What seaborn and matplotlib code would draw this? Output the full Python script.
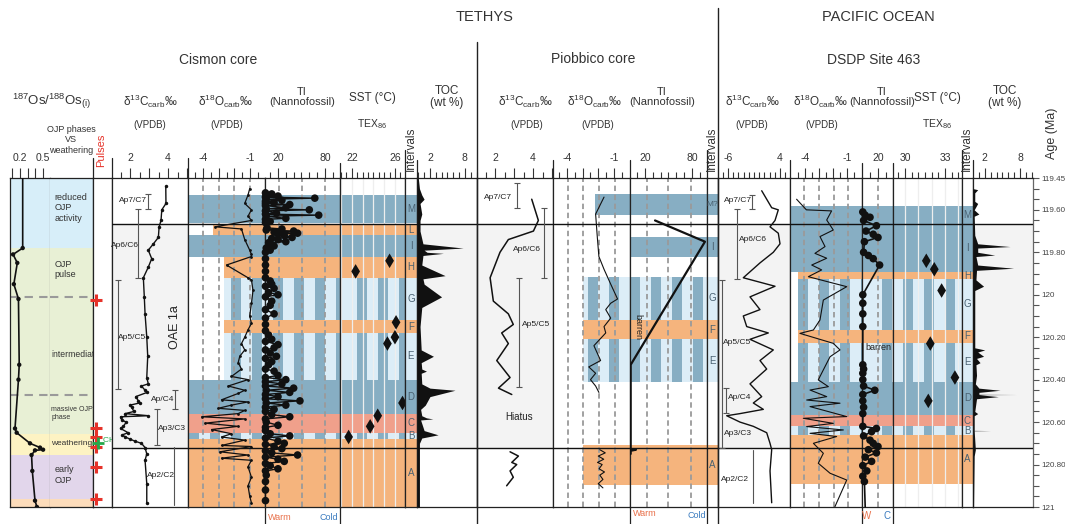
import numpy as np
import matplotlib
matplotlib.use('Agg')
import matplotlib.pyplot as plt
import matplotlib.transforms as mtransforms
from matplotlib.lines import Line2D
from matplotlib.patches import Rectangle
import seaborn as sns

sns.set_theme(style='white')
plt.rcParams['font.family'] = ['Liberation Sans', 'DejaVu Sans']
plt.rcParams['mathtext.fontset'] = 'custom'
plt.rcParams['mathtext.rm'] = 'Liberation Sans'
plt.rcParams['mathtext.it'] = 'Liberation Sans:italic'
plt.rcParams['mathtext.bf'] = 'Liberation Sans:bold'

# ---------------- data (age in Ma, value) ----------------
# OJP phases / Os isotopes
phase_top = [119.45, 119.78, 120.655, 120.755, 120.96]
phase_base = [119.78, 120.655, 120.755, 120.96, 121.0]
phase_col = ['#d7eef9', '#e8f0d5', '#fdf3c3', '#e2d6eb', '#fcdcbb']
phase_labels = ['reduced\nOJP\nactivity', 'OJP\npulse', 'intermediate', 'massive OJP\nphase', 'weathering', 'early\nOJP']
phase_label_age = [119.59, 119.88, 120.28, 120.56, 120.70, 120.85]
phase_dash = [120.01, 120.47]
os_ratio = [(119.45, 0.235), (119.78, 0.235), (119.81, 0.11), (119.85, 0.165), (119.95, 0.12), (120.02, 0.18),
            (120.33, 0.19), (120.40, 0.18), (120.63, 0.135), (120.65, 0.157), (120.70, 0.33), (120.72, 0.46),
            (120.73, 0.50), (120.733, 0.395), (120.755, 0.35), (120.83, 0.36), (120.97, 0.395), (121.0, 0.42)]
pulse_ages = [120.025, 120.63, 120.67, 120.715, 120.81, 120.96]
ch4_age = 120.70

# shared grey box (OAE interval)
box_top, box_base = 119.667, 120.722

# Cismon core
c_int = ['M', 'L', 'I', 'H', 'G', 'F', 'E', 'D', 'C', 'B', 'A']
c_int_top = [119.53, 119.67, 119.72, 119.82, 119.92, 120.12, 120.18, 120.40, 120.56, 120.65, 120.68]
c_int_base = [119.663, 119.72, 119.82, 119.92, 120.12, 120.18, 120.40, 120.56, 120.65, 120.68, 121.0]
c_int_kind = ['blue', 'orange', 'blue', 'orange', 'stripe', 'orange', 'stripe', 'blue', 'salmon', 'stripe', 'orange']
c_int_from = [-5.0, -3.38, -5.0, -2.68, -2.68, -2.68, -2.68, -5.0, -5.0, -5.0, -5.0]
c_zones = [('Ap7/C7', 119.525, 119.596), ('Ap6/C6', 119.597, 119.922), ('Ap5/C5', 119.93, 120.445),
           ('Ap/C4', 120.45, 120.54), ('Ap3/C3', 120.54, 120.71), ('Ap2/C2', 120.716, 120.99)]
c_d13c = [(119.49, 3.88), (119.57, 3.89), (119.60, 3.67), (119.65, 3.63), (119.68, 3.53), (119.73, 3.49),
          (119.76, 3.23), (119.79, 2.96), (119.83, 3.14), (119.87, 2.96), (119.92, 2.70), (120.01, 2.75),
          (120.09, 2.79), (120.20, 2.88), (120.29, 2.93), (120.39, 2.88), (120.42, 2.96), (120.43, 2.6),
          (120.45, 2.79), (120.46, 2.9), (120.48, 2.3), (120.50, 2.44), (120.51, 2.5), (120.52, 2.0),
          (120.53, 2.09), (120.55, 2.2), (120.56, 1.74), (120.57, 2.97), (120.575, 1.5), (120.59, 1.56),
          (120.60, 1.8), (120.62, 1.65), (120.63, 1.5), (120.65, 1.9), (120.66, 1.6), (120.67, 1.74),
          (120.68, 2.0), (120.69, 2.26), (120.70, 2.6), (120.72, 2.79), (120.75, 2.88), (120.78, 2.79),
          (120.89, 2.88), (120.98, 2.88)]
c_d18o = [(119.50, -1.02), (119.53, -1.13), (119.57, -1.34), (119.60, -0.91), (119.63, -1.13), (119.65, -0.91),
          (119.68, -3.25), (119.69, -1.55), (119.74, -1.34), (119.79, -1.02), (119.81, -0.91), (119.82, -0.91),
          (119.86, -2.51), (119.92, -1.13), (119.93, -0.91), (119.98, -0.81), (120.04, -0.91), (120.10, -1.02),
          (120.135, -0.91), (120.165, -1.13), (120.20, -1.34), (120.23, -1.55), (120.26, -1.34), (120.29, -1.66),
          (120.32, -1.76), (120.35, -1.55), (120.385, -2.19), (120.40, -1.13), (120.43, -2.40), (120.45, -1.34),
          (120.465, -1.76), (120.495, -2.83), (120.505, -1.13), (120.52, -2.19), (120.535, -3.04), (120.545, -1.34),
          (120.56, -1.76), (120.575, -4.10), (120.585, -1.34), (120.605, -3.89), (120.62, -1.76), (120.635, -3.47),
          (120.655, -2.19), (120.67, -2.83), (120.685, -1.34), (120.71, -2.83), (120.715, -0.91), (120.74, -2.93),
          (120.755, -1.13), (120.77, -2.83), (120.78, -0.91), (120.81, -1.13), (120.86, -0.91), (120.90, -1.13),
          (120.95, -1.02), (120.98, -0.91)]
c_ti = [(119.52, 4), (119.525, 12), (119.53, 5), (119.535, 20), (119.54, 4), (119.545, 67), (119.55, 5),
        (119.555, 25), (119.56, 4), (119.565, 15), (119.57, 4), (119.575, 35), (119.58, 4), (119.59, 30),
        (119.595, 5), (119.60, 60), (119.605, 4), (119.615, 18), (119.62, 4), (119.625, 72), (119.63, 5),
        (119.64, 30), (119.645, 4), (119.655, 10), (119.66, 4), (119.685, 6), (119.69, 25), (119.695, 5),
        (119.70, 40), (119.705, 15), (119.71, 45), (119.715, 20), (119.72, 28), (119.73, 38), (119.735, 12),
        (119.74, 20), (119.75, 30), (119.755, 8), (119.76, 10), (119.77, 15), (119.78, 5), (119.79, 10),
        (119.80, 4), (119.83, 4), (119.86, 4), (119.89, 4), (119.92, 4), (119.935, 10), (119.95, 12),
        (119.96, 4), (119.97, 15), (119.99, 8), (120.00, 20), (120.01, 4), (120.03, 12), (120.05, 10),
        (120.07, 4), (120.09, 15), (120.11, 4), (120.14, 4), (120.17, 4), (120.19, 8), (120.21, 12),
        (120.22, 4), (120.235, 20), (120.25, 15), (120.26, 4), (120.275, 10), (120.29, 18), (120.30, 4),
        (120.315, 12), (120.33, 8), (120.35, 4), (120.36, 15), (120.38, 20), (120.39, 4), (120.40, 30),
        (120.41, 4), (120.42, 25), (120.43, 4), (120.44, 40), (120.45, 5), (120.46, 35), (120.47, 4),
        (120.48, 20), (120.49, 4), (120.50, 48), (120.51, 5), (120.52, 30), (120.53, 4), (120.54, 15),
        (120.55, 4), (120.565, 12), (120.575, 35), (120.585, 4), (120.60, 5), (120.615, 20), (120.625, 4),
        (120.64, 4), (120.655, 10), (120.665, 35), (120.675, 4), (120.69, 20), (120.70, 28), (120.705, 4),
        (120.715, 15), (120.725, 25), (120.735, 4), (120.745, 12), (120.755, 45), (120.765, 4), (120.775, 20),
        (120.785, 28), (120.795, 4), (120.805, 10), (120.82, 20), (120.83, 4), (120.85, 5), (120.88, 4),
        (120.92, 4), (120.97, 4)]
c_sst = [(119.84, 25.5), (119.89, 22.35), (120.13, 26.1), (120.20, 26.0), (120.23, 25.3), (120.51, 26.7),
         (120.57, 24.4), (120.62, 23.7), (120.67, 21.7)]
c_toc = [(119.45, 0.0), (119.50, 0.2), (119.53, 0.6), (119.55, 1.0), (119.57, 0.3), (119.62, 0.6), (119.65, 0.3),
         (119.70, 0.3), (119.76, 0.8), (119.78, 7.7), (119.79, 1.0), (119.80, 1.5), (119.805, 4.3), (119.815, 0.8),
         (119.86, 0.6), (119.91, 4.6), (119.925, 0.8), (119.95, 1.0), (120.01, 4.0), (120.06, 0.6), (120.15, 0.3),
         (120.26, 0.5), (120.29, 2.6), (120.32, 0.5), (120.35, 0.6), (120.36, 1.4), (120.37, 0.5), (120.42, 0.6),
         (120.44, 2.0), (120.45, 6.3), (120.48, 2.0), (120.52, 1.2), (120.54, 0.4), (120.57, 0.6), (120.58, 1.4),
         (120.585, 2.5), (120.59, 0.4), (120.64, 1.0), (120.66, 3.4), (120.675, 0.6), (120.70, 0.2), (121.0, 0.2)]

# Piobbico core
p_int = ['M?', 'I', 'G', 'F', 'E', 'A']
p_int_top = [119.525, 119.726, 119.915, 120.119, 120.21, 120.708]
p_int_base = [119.624, 119.824, 120.119, 120.21, 120.41, 120.896]
p_int_kind = ['blue', 'blue', 'stripe', 'orange', 'stripe', 'orange']
p_int_from = [-2.24, np.nan, -2.96, -2.96, -2.96, -2.96]
p_zones = [('Ap7/C7', 119.475, 119.59), ('Ap6/C6', 119.59, 119.92), ('Ap5/C5', 119.92, 120.435)]
p_d13c = [(119.55, 3.93), (119.65, 4.28), (119.70, 4.02), (119.74, 2.70), (119.80, 2.26), (119.92, 1.74),
          (120.03, 1.91), (120.09, 2.70), (120.14, 2.96), (120.18, 2.35), (120.23, 2.70), (120.31, 2.09),
          (120.39, 2.79), (120.44, 2.18), (120.47, 2.88)]
p_d13c_a = [(120.74, 2.79), (120.76, 3.23), (120.79, 2.88), (120.80, 3.14), (120.83, 2.79), (120.86, 2.96),
            (120.90, 2.61)]
p_d18o = [(119.54, -1.63), (119.62, -2.17), (119.73, -2.06), (119.82, -1.96), (119.88, -1.63), (119.95, -1.20),
          (120.02, -0.76), (120.04, -1.20), (120.07, -1.52), (120.11, -1.20), (120.15, -1.63), (120.18, -1.52),
          (120.24, -2.28), (120.31, -1.85), (120.34, -2.61), (120.37, -2.17), (120.40, -2.50), (120.43, -2.17),
          (120.46, -1.96)]
p_d18o_a = [(120.73, -1.9), (120.745, -1.55), (120.76, -2.0), (120.775, -1.65), (120.79, -2.05), (120.80, -1.75),
            (120.82, -1.95), (120.835, -1.6), (120.85, -1.9), (120.87, -1.7), (120.89, -2.0), (120.91, -1.7)]
p_ti = [(119.65, 32.8), (119.75, 96.6), (120.33, 1.7), (120.73, 1.7), (120.73, 8.5), (120.735, 1.7), (120.75, 1.7)]

# DSDP Site 463
a_int = ['M', 'I', 'H', 'G', 'F', 'E', 'D', 'C', 'B', 'A']
a_int_top = [119.58, 119.667, 119.895, 119.925, 120.165, 120.225, 120.41, 120.565, 120.62, 120.66]
a_int_base = [119.667, 119.895, 119.925, 120.165, 120.225, 120.41, 120.565, 120.62, 120.66, 120.89]
a_int_kind = ['blue', 'blue', 'orange', 'stripe', 'orange', 'stripe', 'blue', 'salmon', 'stripe', 'orange']
a_int_from = [-5.07, -5.07, -4.5, -4.5, -4.5, -4.5, -5.07, -5.07, -5.07, -5.07]
a_zones = [('Ap7/C7', 119.53, 119.597), ('Ap6/C6', 119.597, 119.927), ('Ap5/C5', 119.93, 120.723),
           ('Ap/C4', 120.44, 120.555), ('Ap3/C3', None, None), ('Ap2/C2', 120.73, 120.98)]
a_d13c = [(119.51, 0.48), (119.59, 2.40), (119.60, 3.67), (119.65, 3.04), (119.68, 2.08), (119.71, 3.67),
          (119.76, 4.0), (119.80, 2.71), (119.85, 0.15), (119.92, -3.06), (119.96, 3.04), (120.01, -1.77),
          (120.07, 0.15), (120.10, -3.06), (120.15, -2.40), (120.18, 1.75), (120.21, -1.77), (120.26, 2.71),
          (120.31, 0.15), (120.35, 1.44), (120.42, -1.77), (120.48, 0.48), (120.51, -1.13), (120.54, 0.79),
          (120.56, -3.69), (120.57, -6.25), (120.60, -3.69), (120.62, -1.13), (120.65, 1.44), (120.70, 2.08),
          (120.73, 2.40), (120.83, 2.08), (120.98, 2.40)]
a_d18o = [(119.55, -4.6), (119.60, -3.9), (119.605, -2.1), (119.648, -2.45), (119.695, -1.98), (119.726, -2.93),
          (119.773, -2.57), (119.805, -3.29), (119.828, -2.45), (119.86, -3.52), (119.883, -2.81), (119.915, -3.76),
          (119.962, -1.02), (120.025, -2.69), (120.119, -2.93), (120.166, -3.40), (120.182, -4.36), (120.229, -1.98),
          (120.26, -1.50), (120.292, -2.21), (120.354, -2.69), (120.401, -3.05), (120.433, -2.33), (120.449, -3.64),
          (120.48, -2.45), (120.496, -3.88), (120.511, -1.50), (120.527, -3.64), (120.574, -1.02), (120.582, -4.12),
          (120.606, -1.98), (120.621, -3.88), (120.637, -1.26), (120.653, -3.64), (120.668, -1.74), (120.70, -3.40),
          (120.747, -2.69), (120.794, -3.05), (120.841, -2.21), (120.873, -1.02), (120.998, -1.86)]
a_ti = [(119.61, 1), (119.625, 4), (119.635, 10), (119.65, 2), (119.675, 18), (119.70, 5), (119.715, 14),
        (119.73, 20), (119.75, 3), (119.80, 2), (119.815, 8), (119.83, 14), (119.86, 22), (120.00, 1),
        (120.04, 1), (120.09, 1), (120.15, 1), (120.33, 1), (120.35, 2), (120.37, 1), (120.40, 1), (120.43, 2),
        (120.45, 16), (120.47, 1), (120.50, 1), (120.53, 2), (120.56, 1), (120.62, 1), (120.63, 18),
        (120.645, 12), (120.665, 2), (120.685, 10), (120.70, 14), (120.715, 20), (120.73, 8), (120.745, 18),
        (120.765, 4), (120.785, 12), (120.805, 1), (120.83, 6), (120.855, 1), (120.88, 3), (121.0, 4)]
a_sst = [(119.84, 31.6), (119.88, 32.2), (119.98, 32.75), (120.23, 31.9), (120.39, 33.75), (120.50, 31.75)]
a_toc = [(119.50, 0.0), (119.505, 0.8), (119.52, 0.3), (119.56, 0.3), (119.57, 0.8), (119.60, 0.2), (119.62, 1.0),
         (119.63, 0.2), (119.72, 0.3), (119.76, 0.8), (119.773, 6.3), (119.78, 0.8), (119.80, 0.8), (119.813, 3.7),
         (119.82, 0.5), (119.86, 0.8), (119.875, 6.9), (119.885, 0.6), (119.93, 0.5), (119.96, 1.8), (119.98, 0.3),
         (120.25, 0.3), (120.26, 2.0), (120.27, 0.8), (120.29, 1.8), (120.30, 0.6), (120.32, 1.2), (120.33, 0.5),
         (120.38, 0.6), (120.42, 0.4), (120.44, 1.0), (120.45, 4.6), (120.46, 1.0), (120.469, 1.0), (120.47, 7.5),
         (120.471, 1.0), (120.48, 4.3), (120.49, 0.6), (120.55, 0.3), (120.56, 0.8), (120.57, 0.2), (120.639, 0.2),
         (120.64, 3.0), (120.641, 0.2), (120.73, 0.4), (120.76, 0.2), (121.0, 0.1)]

age_ticks = [119.45, 119.60, 119.80, 120.0, 120.20, 120.40, 120.60, 120.80, 121.0]
age_labels = ['119.45', '119.60', '119.80', '120', '120.20', '120.40', '120.60', '120.80', '121']

# ---------------- figure helpers ----------------
W, H = 1065, 524
TOP, BOT = 178, 507
STRIPE_PERIOD, STRIPE_W = 21, 10   # pixels, pattern of the striped intervals
COL = {'blue': '#87aec3', 'orange': '#f5b47d', 'salmon': '#f0a08b', 'stripe': '#dcedf7', 'grey': '#f3f3f3'}
TXT = '#333333'

fig = plt.figure(figsize=(W / 100, H / 100), dpi=100)
PX = {}


def arr(pairs):
    a = np.array(pairs, dtype=float)
    return a[:, 0], a[:, 1]


def panel(x0, x1, xlim, major=(), labels=(), minor=()):
    ax = fig.add_axes([x0 / W, 1 - BOT / H, (x1 - x0) / W, (BOT - TOP) / H])
    PX[ax] = (x0, x1)
    ax.set_facecolor('white')
    ax.set_xlim(*xlim)
    ax.set_ylim(121.0, 119.45)
    ax.set_yticks([])
    ax.set_xticks(list(major))
    ax.set_xticklabels(list(labels))
    ax.set_xticks(list(minor), minor=True)
    ax.tick_params(axis='x', which='both', top=True, bottom=False, labeltop=True, labelbottom=False,
                   direction='out', color='#333333', width=0.8)
    ax.tick_params(axis='x', which='major', length=7, labelsize=7.5, pad=4, labelcolor=TXT)
    ax.tick_params(axis='x', which='minor', length=4)
    ax.tick_params(axis='y', which='both', left=False, right=False)
    for s in ax.spines.values():
        s.set_color('#222222')
        s.set_linewidth(0.9)
    return ax


def ftext(x, y, s, **kw):
    kw.setdefault('ha', 'center')
    kw.setdefault('va', 'center')
    kw.setdefault('color', TXT)
    fig.text(x / W, 1 - y / H, s, **kw)


def fline(x, y0, y1, lw=1.0, color='#222222'):
    fig.add_artist(Line2D([x / W, x / W], [1 - y0 / H, 1 - y1 / H], color=color, lw=lw))


def stripes(ax, t, b, xmin):
    # vertical dark stripes on a light band, laid out in figure pixels
    x0, x1 = PX[ax]
    tr = mtransforms.blended_transform_factory(ax.transAxes, ax.transData)
    start = x0 + xmin * (x1 - x0)
    k = int(np.ceil(start / STRIPE_PERIOD))
    while k * STRIPE_PERIOD < x1:
        px0 = max(k * STRIPE_PERIOD, start)
        px1 = min(k * STRIPE_PERIOD + STRIPE_W, x1)
        if px1 > px0:
            ax.add_patch(Rectangle(((px0 - x0) / (x1 - x0), t), (px1 - px0) / (x1 - x0), b - t,
                                   transform=tr, facecolor=COL['blue'], lw=0, zorder=1.2))
        k += 1


def draw_bands(ax, tops, bases, kinds, starts=None, striped=True):
    x0, x1 = ax.get_xlim()
    for i, (t, b, k) in enumerate(zip(tops, bases, kinds)):
        xmin = 0.0
        if starts is not None:
            if np.isnan(starts[i]):
                continue
            xmin = max(0.0, (starts[i] - x0) / (x1 - x0))
        ax.axhspan(t, b, xmin=xmin, xmax=1, facecolor=COL[k], lw=0, zorder=1)
        if k == 'stripe' and striped:
            stripes(ax, t, b, xmin)


def interval_column(ax, names, tops, bases, kinds):
    draw_bands(ax, tops, bases, kinds, striped=False)
    tr = mtransforms.blended_transform_factory(ax.transAxes, ax.transData)
    for n, t, b in zip(names, tops, bases):
        ax.text(0.5, (t + b) / 2, n, transform=tr, ha='center', va='center', fontsize=7 if len(n) == 1 else 6,
                color='#4a6272', zorder=6)


def grey_box(ax):
    ax.axhspan(box_top, box_base, facecolor=COL['grey'], lw=0, zorder=0.5)


def box_lines(ax):
    for a in (box_top, box_base):
        ax.axhline(a, color='#111111', lw=1.0, zorder=3)


def dashed(ax, xs):
    for x in xs:
        ax.axvline(x, color='#9a9a9a', lw=1.3, ls=(0, (3, 2)), zorder=2)


def curve(ax, pairs, lw=1.0, marker=None, ms=2.0):
    ages, vals = arr(pairs)
    sns.lineplot(x=vals, y=ages, ax=ax, sort=False, estimator=None, color='#111111', lw=lw,
                 marker=marker, markersize=ms, markeredgewidth=0, zorder=4)


def zone(ax, x, a0, a1, caps=True):
    ax.plot([x, x], [a0, a1], color='#555555', lw=0.8, marker='_' if caps else None, ms=5, mew=0.8, zorder=3)


def small(ax, x, a, s, size=6, **kw):
    ax.text(x, a, s, fontsize=size, ha='center', va='center', color='#222222', zorder=6, **kw)


# ---------------- OJP / Os columns ----------------
ax_os = panel(10, 50, (0.07, 0.59), [0.1, 0.2, 0.3, 0.4, 0.5], ['', '0.2', '', '', '0.5'])
ax_ph = panel(50, 93, (0, 1))
ax_ph.set_xticks([])
for ax in (ax_os, ax_ph):
    for t, b, c in zip(phase_top, phase_base, phase_col):
        ax.axhspan(t, b, facecolor=c, lw=0, zorder=0)
    for d in phase_dash:
        ax.axhline(d, color='#9a9a9a', lw=1.5, ls=(0, (4, 3)), zorder=2)
ax_os.spines['right'].set_color('#8a8a8a')
ax_ph.spines['left'].set_visible(False)
os_age, os_val = arr(os_ratio)
ax_os.plot(os_val, os_age, color='#111111', lw=1.2, zorder=4)
sns.scatterplot(x=os_val[1:], y=os_age[1:], ax=ax_os, color='#111111', s=10, edgecolor='none', zorder=5)
for lab, a in zip(phase_labels, phase_label_age):
    fs = {'massive OJP\nphase': 5.0, 'weathering': 6.0, 'intermediate': 6.2}.get(lab, 6.5)
    xx = 0.03 if lab in ('intermediate', 'weathering', 'massive OJP\nphase') else 0.1
    ax_ph.text(xx, a, lab, fontsize=fs, ha='left', va='center', color='#333333', linespacing=1.2)

ax_pu = panel(93, 112, (0, 1))
ax_pu.set_xticks([])
ax_pu.plot(np.zeros(len(pulse_ages)) + 0.16, pulse_ages, ls='none', marker='+', ms=9, mew=2.2,
           color='#e6332a', clip_on=False, zorder=5)
ax_pu.plot([0.28], [ch4_age], ls='none', marker='+', ms=8, mew=2, color='#25a84b', clip_on=False, zorder=5)
ax_pu.text(0.45, ch4_age - 0.01, 'CH$_4$', fontsize=6, color='#25a84b', ha='left', va='center', clip_on=True)

# ---------------- Cismon core ----------------
ax = panel(112, 188, (1.05, 5.05), [2, 3, 4, 5], ['2', '', '4', ''], np.arange(1.5, 5.01, 0.5))
grey_box(ax)
box_lines(ax)
cz_x = [2.96, 2.44, 1.35, 4.37, 3.44, 4.33]
cz_lab = [(2.16, 119.555), (1.74, 119.766), (2.1, 120.20), (3.74, 120.495), (4.2, 120.63), (3.63, 120.85)]
for (name, a0, a1), x, (lx, la) in zip(c_zones, cz_x, cz_lab):
    zone(ax, x, a0, a1, caps=(name != 'Ap2/C2'))
    small(ax, lx, la, name)
small(ax, 4.37, 120.15, 'OAE 1a', size=9, rotation=90)
curve(ax, c_d13c, lw=1.0, marker='o', ms=2.5)

ax = panel(188, 265, (-4.98, -0.04), [-4, -3, -2, -1], ['-4', '', '', '-1'], np.arange(-4.5, -0.4, 0.5))
draw_bands(ax, c_int_top, c_int_base, c_int_kind, c_int_from)
dashed(ax, [-4, -3, -2, -1])
box_lines(ax)
curve(ax, c_d18o, lw=0.9, marker='o', ms=2)

ax = panel(265, 340, (3.4, 99.2), [20, 80], ['20', '80'], np.arange(10, 95, 10))
draw_bands(ax, c_int_top, c_int_base, c_int_kind)
dashed(ax, [21, 50.6, 80])
box_lines(ax)
ti_age, ti_val = arr(c_ti)
ax.plot(ti_val, ti_age, color='#111111', lw=1.0, zorder=4, clip_on=False)
sns.scatterplot(x=ti_val, y=ti_age, ax=ax, color='#111111', s=30, edgecolor='none', zorder=5, clip_on=False)

ax = panel(340, 405, (20.9, 26.93), [22, 26], ['22', '26'], np.arange(21, 26.9, 0.5))
draw_bands(ax, c_int_top, c_int_base, c_int_kind)
for v in range(21, 27):
    ax.axvline(v, color='#eeeeee', lw=0.9, zorder=2)
box_lines(ax)
s_age, s_val = arr(c_sst)
sns.scatterplot(x=s_val, y=s_age, ax=ax, color='#111111', marker='d', s=55, edgecolor='none', zorder=5,
                clip_on=False)

ax = panel(405, 417, (0, 1))
ax.set_xticks([])
interval_column(ax, c_int, c_int_top, c_int_base, c_int_kind)
box_lines(ax)

ax = panel(417, 477, (-0.22, 10.07), [2, 8], ['2', '8'], np.arange(0, 10.1, 1))
grey_box(ax)
box_lines(ax)
t_age, t_val = arr(c_toc)
ax.fill_betweenx(t_age, -0.22, t_val, color='#111111', lw=0, zorder=4)

# ---------------- Piobbico core ----------------
ax = panel(477, 553, (1.05, 5.05), [2, 3, 4, 5], ['2', '', '4', ''], np.arange(1.5, 5.01, 0.5))
grey_box(ax)
box_lines(ax)
pz_x = [3.14, 4.58, 3.28]
pz_lab = [(2.16, 119.54), (3.68, 119.785), (4.16, 120.14)]
for (name, a0, a1), x, (lx, la) in zip(p_zones, pz_x, pz_lab):
    zone(ax, x, a0, a1)
    small(ax, lx, la, name)
small(ax, 3.28, 120.577, 'Hiatus', size=7)
curve(ax, p_d13c, lw=1.1)
curve(ax, p_d13c_a, lw=1.1)

ax = panel(553, 630, (-4.91, 0.04), [-4, -3, -2, -1], ['-4', '', '', '-1'], np.arange(-4.5, -0.4, 0.5))
draw_bands(ax, p_int_top, p_int_base, p_int_kind, p_int_from)
dashed(ax, [-3.93, -2.96, -1.93, -0.94])
box_lines(ax)
curve(ax, p_d18o, lw=0.8)
curve(ax, p_d18o_a, lw=0.8)

ax = panel(630, 707, (0.85, 99.2), [20, 80], ['20', '80'], np.arange(10, 95, 10))
draw_bands(ax, p_int_top, p_int_base, p_int_kind)
dashed(ax, [22, 50, 79])
box_lines(ax)
curve(ax, p_ti, lw=1.6)
small(ax, 11, 120.15, 'barren', size=6.5, rotation=-90)

ax = panel(707, 718, (0, 1))
ax.set_xticks([])
interval_column(ax, p_int, p_int_top, p_int_base, p_int_kind)
box_lines(ax)

# ---------------- DSDP Site 463 ----------------
ax = panel(718, 790, (-7.92, 5.92), [-6, 4], ['-6', '4'], np.arange(-7, 5.1, 1))
grey_box(ax)
box_lines(ax)
az_x = [-1.44, -4.33, -7.21, -6.38, None, -1.13]
az_lab = [(-4.17, 119.557), (-1.29, 119.74), (-4.17, 120.226), (-3.69, 120.486), (-4.08, 120.656), (-4.56, 120.87)]
for (name, a0, a1), x, (lx, la) in zip(a_zones, az_x, az_lab):
    if x is not None:
        zone(ax, x, a0, a1, caps=(name != 'Ap2/C2'))
    small(ax, lx, la, name)
curve(ax, a_d13c, lw=1.0)

ax = panel(790, 862, (-5.07, 0.07), [-4, -3, -2, -1], ['-4', '', '', '-1'], np.arange(-4.5, -0.4, 0.5))
draw_bands(ax, a_int_top, a_int_base, a_int_kind, a_int_from)
dashed(ax, [-4.07, -2.98, -1.93, -0.91])
box_lines(ax)
curve(ax, a_d18o, lw=0.8)

ax = panel(862, 893, (0, 38.75), [20], ['20'], [10, 30])
draw_bands(ax, a_int_top, a_int_base, a_int_kind)
dashed(ax, [20])
box_lines(ax)
ta_age, ta_val = arr(a_ti)
ax.plot(ta_val, ta_age, color='#111111', lw=1.2, zorder=4, clip_on=False)
sns.scatterplot(x=ta_val[:-1], y=ta_age[:-1], ax=ax, color='#111111', s=30, edgecolor='none', zorder=5,
                clip_on=False)
small(ax, 20, 120.25, 'barren', size=6.5)

ax = panel(893, 962, (29.1, 34.28), [30, 33], ['30', '33'], np.arange(29.5, 34.1, 0.5))
draw_bands(ax, a_int_top, a_int_base, a_int_kind)
for v in range(30, 35):
    ax.axvline(v, color='#eeeeee', lw=0.9, zorder=2)
box_lines(ax)
s_age, s_val = arr(a_sst)
sns.scatterplot(x=s_val, y=s_age, ax=ax, color='#111111', marker='d', s=55, edgecolor='none', zorder=5)

ax = panel(962, 973, (0, 1))
ax.set_xticks([])
interval_column(ax, a_int, a_int_top, a_int_base, a_int_kind)
box_lines(ax)

ax = panel(973, 1033, (0, 10.2), [2, 8], ['2', '8'], np.arange(1, 10.1, 1))
grey_box(ax)
box_lines(ax)
t_age, t_val = arr(a_toc)
ax.fill_betweenx(t_age, 0, t_val, color='#111111', lw=0, zorder=4)
ax.spines['right'].set_color('#666666')
ax.yaxis.tick_right()
ax.set_yticks(age_ticks)
ax.set_yticklabels(age_labels)
ax.set_yticks(np.arange(119.45, 121.01, 0.05), minor=True)
ax.tick_params(axis='y', which='both', right=True, left=False, direction='out', length=4.5, width=0.8,
               color='#555555', labelsize=5.8, labelcolor='#444444', pad=1.5)

# ---------------- headers and frame lines ----------------
ftext(485, 17, 'TETHYS', fontsize=10.5)
ftext(878, 17, 'PACIFIC OCEAN', fontsize=10.5)
ftext(218, 60, 'Cismon core', fontsize=10)
ftext(593, 59, 'Piobbico core', fontsize=10)
ftext(874, 60, 'DSDP Site 463', fontsize=10)
ftext(52, 101, r'$^{187}$Os/$^{188}$Os$_{\rm (i)}$', fontsize=9.5)
ftext(71, 140, 'OJP phases\nVS\nweathering', fontsize=6.5, linespacing=1.15)
ftext(101, 150, 'Pulses', fontsize=8, rotation=90, color='#e6332a')
for x in (150, 525, 752):
    ftext(x, 101, 'δ$^{13}$C$_{\\rm carb}$‰', fontsize=8.5)
for x in (226, 595, 821):
    ftext(x, 101, 'δ$^{18}$O$_{\\rm carb}$‰', fontsize=8.5)
for x in (150, 227, 527, 598, 752, 822):
    ftext(x, 125, '(VPDB)', fontsize=7)
for x in (302, 662, 882):
    ftext(x, 97, 'TI\n(Nannofossil)', fontsize=8, linespacing=1.1)
for x in (372, 937):
    ftext(x, 98, 'SST (°C)', fontsize=8.5)
    ftext(x, 124, 'TEX$_{86}$', fontsize=7.5)
for x in (411, 712, 967):
    ftext(x, 149, 'Intervals', fontsize=8.5, rotation=90)
for x in (447, 1005):
    ftext(x, 97, 'TOC\n(wt %)', fontsize=8.5, linespacing=1.1)
ftext(1052, 133, 'Age (Ma)', fontsize=9, rotation=90)
ftext(280, 518, 'Warm', fontsize=6.5, color='#e8704a')
ftext(329, 518, 'Cold', fontsize=6.5, color='#3a7bbf')
ftext(645, 514, 'Warm', fontsize=6.5, color='#e8704a')
ftext(697, 515, 'Cold', fontsize=6.5, color='#3a7bbf')
ftext(867, 516, 'W', fontsize=7, color='#e8704a')
ftext(887, 516, 'C', fontsize=7, color='#3a7bbf')

fline(477, 42, 524)
fline(718, 8, 524)
for x in (265, 340, 630, 707, 862, 893):
    fline(x, BOT, 524, lw=0.9)
for x, y0 in [(93, 158), (112, 158), (188, 158), (340, 163), (405, 150), (417, 160), (553, 160),
              (630, 160), (707, 150), (790, 160), (862, 163), (893, 163), (962, 150), (973, 160)]:
    fline(x, y0, TOP, lw=0.9)

fig.savefig('out.png', dpi=100)
